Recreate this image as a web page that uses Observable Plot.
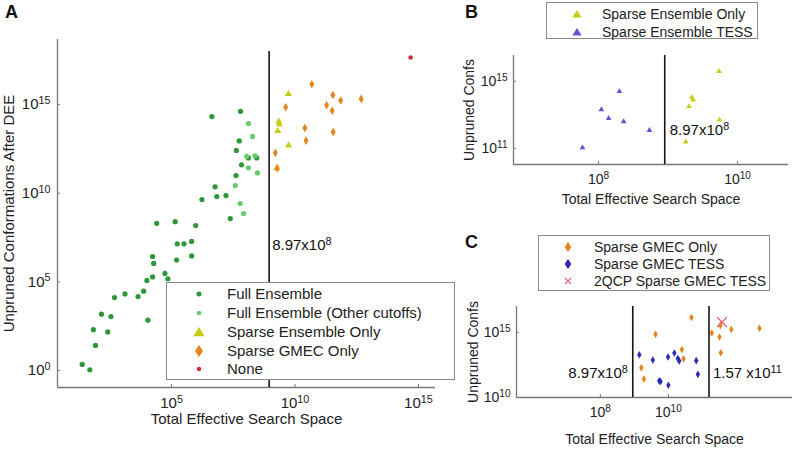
<!DOCTYPE html>
<html><head><meta charset="utf-8">
<script src="https://cdn.jsdelivr.net/npm/d3@7"></script>
<script src="https://cdn.jsdelivr.net/npm/@observablehq/plot@0.6"></script>
<style>
body{margin:0;background:#fff;font-family:"Liberation Sans",Arial,Helvetica,sans-serif;color:#222;}
#wrap{position:relative;width:795px;height:452px;overflow:hidden;background:#fff;}
.tag{position:absolute;font-weight:bold;font-size:18px;line-height:18px;color:#111;}
.legend{position:absolute;border:1.3px solid #8a8a8a;background:#fff;box-sizing:border-box;}
.legend .row{position:absolute;white-space:nowrap;line-height:16px;}
.legend svg{position:absolute;overflow:visible;}
</style></head><body><div id="wrap"></div>
<script>
// ---------------- DATA ----------------
// [total effective search space, unpruned conformations]
const fullEnsemble = [
  [4.3e6,2.1e14],[6.2e7,4.2e14],[5.5e7,8.9e12],[4.2e7,2.6e12],[1.3e8,9.8e11],[2.8e8,9.8e11],
  [6.8e7,4.0e11],[4.1e7,1.0e11],[5.8e6,2.3e10],[6.8e6,6.5e9],[1.6e7,7.4e9],[1.7e6,4.4e9],
  [2.4e7,3.7e8],[2.5e4,2.0e8],[1.4e5,2.5e8],[9.5e5,1.5e8],[1.7e5,1.4e7],[3.2e5,1.4e7],
  [6.5e5,1.9e7],[1.7e4,2.7e6],[1.9e4,1.1e6],[1.6e5,1.7e6],[6.5e5,2.9e6],[5.4e4,3.0e5],
  [7.1e4,1.5e5],[1.7e4,1.9e5],[1.0e4,1.2e5],[7.4e3,3.0e4],[4.4e3,1.5e4],[1.3e3,2.1e4],
  [490,1.3e4],[145,1.5e3],[350,1.1e3],[1.1e4,690],[68,200],[260,150],[83,26],[24,2.2],[49,1.1]
];
const fullEnsembleOther = [
  [1.3e8,8.5e13],[1.9e8,1.6e13],[1.1e8,1.2e12],[2.4e8,1.3e12],[1.3e8,2.7e11],[3.0e8,1.4e11],
  [3.8e7,2.7e10],[6.0e7,2.6e9],[8.3e7,7.1e8]
];
const sparseEnsembleOnly = [
  [5.4e9,4.0e15],[2.2e9,1.1e14],[2.3e9,7.9e13],[2.0e9,3.2e13],[5.5e9,5.0e12],[1.8e9,2.5e11]
];
const sparseGmecOnly = [
  [4.8e10,1.4e16],[4.2e9,7.1e14],[2.5e10,4.8e13],[2.8e10,9.3e12],[1.6e9,1.9e12],[1.9e9,2.6e11],
  [3.4e11,3.5e15],[1.9e11,9.1e14],[7.1e11,1.7e15],[4.8e12,2.1e15],[3.2e11,4.5e14],[3.5e11,2.8e13]
];
const noneSet = [[4.8e14,4.5e17]];
const sparseEnsembleTess = [
  [5.9e7,1.1e11],[1.1e8,2.1e13],[1.4e8,6.2e12],[2.0e8,2.5e14],[2.3e8,4.0e12],[5.4e8,1.2e12]
];
const sparseGmecTess = [
  [1.4e9,1.9e13],[3.5e9,7.6e12],[9.8e9,1.3e13],[1.5e10,2.6e13],[1.9e10,1.0e13],[2.1e10,6.5e12],
  [6.6e10,6.8e12],[7.4e10,6.0e11],[5.4e9,1.9e11],[5.9e9,1.7e11],[1.0e10,8.7e10]
];
const twoQcpSparseGmecTess = [[3.8e11,6.2e15]];

const thresholds = [8.97e8, 1.57e11];
const thresholdLabels = ["8.97x10^8", "1.57 x10^11"];

const aXTicks = [1e5,1e10,1e15], aYTicks = [1,1e5,1e10,1e15];
const bXTicks = [1e8,1e10], bYTicks = [1e11,1e15];
const cXTicks = [1e8,1e10], cYTicks = [1e10,1e15];

const xLabel = "Total Effective Search Space";
const yLabelA = "Unpruned Conformations After DEE";
const yLabelBC = "Unpruned Confs";

const legendA = ["Full Ensemble","Full Ensemble (Other cutoffs)","Sparse Ensemble Only","Sparse GMEC Only","None"];
const legendB = ["Sparse Ensemble Only","Sparse Ensemble TESS"];
const legendC = ["Sparse GMEC Only","Sparse GMEC TESS","2QCP Sparse GMEC TESS"];

// ---------------- STYLE ----------------
const FONT = '"Liberation Sans", Arial, Helvetica, sans-serif';
const C = {
  full:"#2c9639", other:"#66cc6e", yellow:"#c8cc12", orange:"#e8841c", red:"#d42a36",
  blueB:"#5656d2", blueC:"#2a2ab4", redX:"#e0606c", axis:"#777", line:"#151515"
};
const pow = d => `10^${Math.round(Math.log10(d))}`;
const X = d => d[0], Y = d => d[1];

function sup(svg){
  d3.select(svg).selectAll("text").each(function(){
    const t = this.textContent;
    if (!t.includes("^") || this.querySelector("tspan")) return;
    const [base, exp] = t.split("^");
    const s = d3.select(this); s.text(null);
    s.append("tspan").text(base);
    s.append("tspan").attr("dy","-0.5em").attr("font-size","0.72em").text(exp);
  });
  return svg;
}
const wrap = document.getElementById("wrap");
function place(node, left, top){
  node.style.position = "absolute"; node.style.left = left+"px"; node.style.top = top+"px";
  wrap.appendChild(node);
}
function axes(xt, yt, xd, yd, opt){
  return [
    Plot.ruleY([yd[0]], {stroke:C.axis, strokeWidth:1.3}),
    Plot.ruleX([xd[0]], {stroke:C.axis, strokeWidth:1.3}),
    Plot.axisX({ticks:xt, tickFormat:pow, tickSize:-3, tickPadding:opt.xp, label:null, stroke:C.axis, fill:"#222", fontSize:opt.fs}),
    Plot.axisY({ticks:yt, tickFormat:pow, tickSize:-3, tickPadding:opt.yp, label:null, stroke:C.axis, fill:"#222", fontSize:opt.fs})
  ];
}
const yTitle = (label, dx, fs) => Plot.text([label], {frameAnchor:"left", textAnchor:"middle", lineAnchor:"middle", dx, rotate:-90, text:d=>d, fontSize:fs, fill:"#222"});

// ---------------- PANEL A ----------------
const aX = [2.4, 4.9e15], aY = [0.11, 4.7e18];
const plotA = Plot.plot({
  width:440, height:452, marginLeft:57, marginRight:5, marginTop:39, marginBottom:65,
  style:{fontFamily:FONT, background:"transparent", color:"#222", overflow:"visible"},
  x:{type:"log", domain:aX}, y:{type:"log", domain:aY},
  marks:[
    ...axes(aXTicks, aYTicks, aX, aY, {xp:13, yp:10, fs:15}),
    Plot.ruleX([thresholds[0]], {y1:aY[0], y2:1e18, stroke:C.line, strokeWidth:1.6}),
    Plot.dot(fullEnsemble, {x:X, y:Y, r:2.6, fill:C.full}),
    Plot.dot(fullEnsembleOther, {x:X, y:Y, r:2.6, fill:C.other}),
    Plot.dot(sparseEnsembleOnly, {x:X, y:Y, r:2.6, symbol:"triangle", fill:C.yellow}),
    Plot.dot(sparseGmecOnly, {x:X, y:Y, r:2.6, symbol:"diamond", fill:C.orange}),
    Plot.dot(noneSet, {x:X, y:Y, r:2.3, fill:C.red}),
    Plot.text([thresholds[0]], {x:d=>d, y:1.1e7, text:()=>thresholdLabels[0], textAnchor:"start", dx:3, fontSize:15, fill:"#111"}),
    Plot.text([xLabel], {frameAnchor:"bottom", dy:36, text:d=>d, fontSize:15, fill:"#222"}),
    yTitle(yLabelA, -48, 15)
  ]
});
place(sup(plotA), 0, 0);

// ---------------- PANEL B ----------------
const bX = [6.0e6, 5.4e10], bY = [1.1e10, 3.5e16];
const plotB = Plot.plot({
  width:365, height:225, marginLeft:83, marginRight:7, marginTop:55, marginBottom:61,
  style:{fontFamily:FONT, background:"transparent", color:"#222", overflow:"visible"},
  x:{type:"log", domain:bX}, y:{type:"log", domain:bY},
  marks:[
    ...axes(bXTicks, bYTicks, bX, bY, {xp:13, yp:9, fs:14}),
    Plot.ruleX([thresholds[0]], {stroke:C.line, strokeWidth:1.6}),
    Plot.dot(sparseEnsembleTess, {x:X, y:Y, r:2.1, symbol:"triangle", fill:C.blueB}),
    Plot.dot(sparseEnsembleOnly, {x:X, y:Y, r:2.1, symbol:"triangle", fill:C.yellow}),
    Plot.text([thresholds[0]], {x:d=>d, y:1.2e12, text:()=>thresholdLabels[0], textAnchor:"start", dx:5, fontSize:15, fill:"#111"}),
    Plot.text([xLabel], {frameAnchor:"bottom", dy:39, text:d=>d, fontSize:14, fill:"#222"}),
    yTitle(yLabelBC, -44, 14)
  ]
});
place(sup(plotB), 430, 0);

// ---------------- PANEL C ----------------
const cX = [3.4e5, 4.5e13], cY = [1e10, 9.8e16];
const plotC = Plot.plot({
  width:365, height:227, marginLeft:86, marginRight:3, marginTop:81, marginBottom:55,
  style:{fontFamily:FONT, background:"transparent", color:"#222", overflow:"visible"},
  x:{type:"log", domain:cX}, y:{type:"log", domain:cY},
  marks:[
    ...axes(cXTicks, cYTicks, cX, cY, {xp:13, yp:9, fs:14}),
    Plot.ruleX(thresholds, {stroke:C.line, strokeWidth:1.6}),
    Plot.dot(sparseGmecOnly, {x:X, y:Y, r:2.3, symbol:"diamond", fill:C.orange}),
    Plot.dot(sparseGmecTess, {x:X, y:Y, r:2.3, symbol:"diamond", fill:C.blueC}),
    Plot.dot(twoQcpSparseGmecTess, {x:X, y:Y, r:4.5, symbol:"times", stroke:C.redX, strokeWidth:1.2}),
    Plot.text([thresholds[0]], {x:d=>d, y:6.9e11, text:()=>thresholdLabels[0], textAnchor:"end", dx:-5, fontSize:15, fill:"#111"}),
    Plot.text([thresholds[1]], {x:d=>d, y:6.9e11, text:()=>thresholdLabels[1], textAnchor:"start", dx:4, fontSize:15, fill:"#111"}),
    Plot.text([xLabel], {frameAnchor:"bottom", dy:46, text:d=>d, fontSize:14, fill:"#222"}),
    yTitle(yLabelBC, -43, 14)
  ]
});
place(sup(plotC), 430, 225);

// ---------------- LEGENDS ----------------
const sym = {
  dot:(c,r)=>`<circle cx="0" cy="0" r="${r}" fill="${c}"/>`,
  tri:(c,s)=>`<polygon points="0,${-s} ${s*1.15},${s*0.85} ${-s*1.15},${s*0.85}" fill="${c}"/>`,
  dia:(c,w,h)=>`<polygon points="0,${-h} ${w},0 0,${h} ${-w},0" fill="${c}"/>`,
  x:(c,s)=>`<path d="M${-s},${-s}L${s},${s}M${-s},${s}L${s},${-s}" stroke="${c}" stroke-width="1.1"/>`
};
function legend(box, rows, names, marks, mx, tx, fs){
  const d = document.createElement("div"); d.className = "legend";
  d.style.left = box[0]+"px"; d.style.top = box[1]+"px";
  d.style.width = (box[2]-box[0])+"px"; d.style.height = (box[3]-box[1])+"px";
  names.forEach((n,i)=>{
    const y = rows[i]-box[1];
    const s = document.createElementNS("http://www.w3.org/2000/svg","svg");
    s.setAttribute("width","1"); s.setAttribute("height","1");
    s.style.left = (mx-box[0])+"px"; s.style.top = y+"px";
    s.innerHTML = marks[i]; d.appendChild(s);
    const r = document.createElement("div"); r.className="row";
    r.style.left = (tx-box[0])+"px"; r.style.top = (y-8)+"px"; r.style.fontSize = fs+"px";
    r.textContent = n; d.appendChild(r);
  });
  wrap.appendChild(d);
}
legend([166,282,455,380],[293,312,331,350,368], legendA,
  [sym.dot(C.full,2.5), sym.dot(C.other,2.3), sym.tri(C.yellow,5), sym.dia(C.orange,4,6), sym.dot(C.red,2.2)], 198, 226, 15);
legend([546,2,758,39],[13,31], legendB,
  [sym.tri(C.yellow,4), sym.tri(C.blueB,4)], 576, 601, 14);
legend([538,235,770,291],[246,263,280], legendC,
  [sym.dia(C.orange,3.3,5), sym.dia(C.blueC,3.3,5), sym.x(C.redX,3)], 567, 593, 14);

// ---------------- PANEL TAGS ----------------
[["A",5,3],["B",465,3],["C",465,233]].forEach(([t,l,tp])=>{
  const d = document.createElement("div"); d.className="tag"; d.textContent=t;
  d.style.left=l+"px"; d.style.top=tp+"px"; wrap.appendChild(d);
});
</script></body></html>
